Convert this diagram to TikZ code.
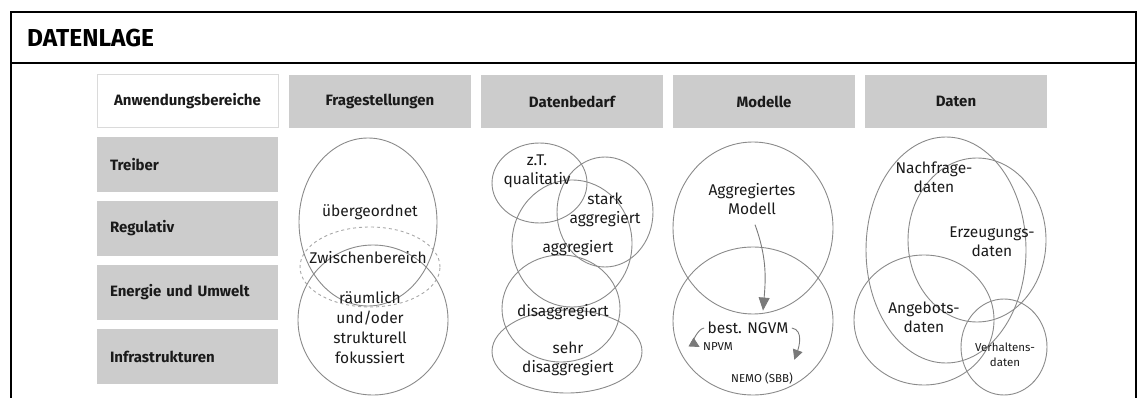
\documentclass[tikz,border=0pt]{standalone}
\usepackage{fontspec}
\setmainfont{Fira Sans}
\usepackage{xcolor}
\usetikzlibrary{arrows.meta, positioning}

\definecolor{boxgray}{HTML}{CCCCCC}
\definecolor{ringgray}{HTML}{8A8A8A}
\definecolor{edgegray}{HTML}{DADADA}
\definecolor{arrowgray}{HTML}{7A7A7A}
\definecolor{textdark}{HTML}{1A1A1A}

\begin{document}
\begin{tikzpicture}[
    x=1pt, y=-1pt,
    node distance=9pt and 10pt,
    colhead/.style={rectangle, fill=boxgray, minimum width=182pt, minimum height=53pt, inner sep=0pt, outer sep=0pt, text=textdark, font=\fontsize{15}{18}\selectfont\bfseries},
    rowhead/.style={rectangle, fill=boxgray, text width=155pt, inner xsep=13pt, inner ysep=0pt, minimum height=55pt, outer sep=0pt, align=left, text=textdark, font=\fontsize{15}{18}\selectfont\bfseries},
    ring/.style={draw=ringgray, line width=0.9pt},
    txt/.style={align=center, text=textdark, font=\fontsize{15.5}{19}\selectfont},
    smalltxt/.style={align=center, text=textdark, font=\fontsize{11.5}{15}\selectfont},
    arrow/.style={-{Triangle[length=13pt, width=11pt]}, draw=arrowgray, line width=0.9pt},
    smallarrow/.style={-{Triangle[length=10pt, width=10pt]}, draw=arrowgray, line width=0.9pt}
]
\useasboundingbox (0,0) rectangle (1137,398);

% Frame
\draw[line width=2.6pt] (11,410) -- (11,12) -- (1136,12) -- (1136,410);
\draw[line width=2.6pt] (11,63) -- (1136,63);
\node[anchor=west, inner sep=0pt, font=\fontsize{24.5}{27}\selectfont\bfseries] (title) at (27,38) {DATENLAGE};

% Header row
\node (anw) [colhead, fill=white, draw=edgegray, line width=1pt, minimum width=181pt] at (187.5,101.5) {Anwendungsbereiche};
\node (frag) [colhead, right=11pt of anw] {Fragestellungen};
\node (bedarf) [colhead, right=of frag] {Datenbedarf};
\node (modelle) [colhead, right=of bedarf] {Modelle};
\node (daten) [colhead, right=of modelle] {Daten};

% Rows
\node (treiber) [rowhead, below=of anw] {Treiber};
\node (regulativ) [rowhead, below=of treiber] {Regulativ};
\node (energie) [rowhead, below=of regulativ] {Energie und Umwelt};
\node (infra) [rowhead, below=of energie] {Infrastrukturen};

% Fragestellungen
\draw[ring] (368,222) ellipse [x radius=69pt, y radius=84pt];
\draw[ring] (373,320) ellipse [x radius=75pt, y radius=75pt];
\draw[ring, draw=ringgray!75, dashed] (370,267) ellipse [x radius=70pt, y radius=40pt];
\node (uebg) [txt] at (370,212) {übergeordnet};
\node (zwischen) [txt] at (368,258) {Zwischenbereich};
\node (raeuml) [txt, font=\fontsize{15.5}{20}\selectfont] at (370,327.5) {räumlich\\und/oder\\strukturell\\fokussiert};

% Datenbedarf
\draw[ring] (539.5,183) ellipse [x radius=47.5pt, y radius=40pt];
\draw[ring] (605,212) ellipse [x radius=48pt, y radius=55pt];
\draw[ring] (572,243.5) ellipse [x radius=60pt, y radius=63.5pt];
\draw[ring] (561,308.5) ellipse [x radius=59pt, y radius=53.5pt];
\draw[ring] (567,351.5) ellipse [x radius=75pt, y radius=41.5pt];
\node (qual) [txt] at (537,171) {z.T.\\qualitativ};
\node (stark) [txt] at (605,209.5) {stark\\aggregiert};
\node (aggr) [txt] at (578,248) {aggregiert};
\node (disaggr) [txt] at (563,312) {disaggregiert};
\node (sehr) [txt] at (568,359) {sehr\\disaggregiert};

% Modelle
\draw[ring] (753,228) ellipse [x radius=80pt, y radius=86pt];
\draw[ring] (753,321) ellipse [x radius=80pt, y radius=74pt];
\node (aggmod) [txt] at (752,199.5) {Aggregiertes\\Modell};
\node (ngvm) [txt] at (748,328) {best. NGVM};
\node (npvm) [smalltxt] at (718,347) {NPVM};
\node (nemo) [smalltxt] at (762,378) {NEMO (SBB)};
\draw[arrow] ([xshift=3pt, yshift=-6pt]aggmod.south) to[out=-70, in=85] ([xshift=15pt, yshift=8pt]ngvm.north);
\draw[smallarrow] (ngvm.west) to[out=190, in=150] (npvm.west);
\draw[smallarrow] (ngvm.east) to[out=-10, in=70] ([xshift=-2pt, yshift=9pt]nemo.north east);

% Daten
\draw[ring] (946,250) ellipse [x radius=80pt, y radius=113pt];
\draw[ring] (977,240) ellipse [x radius=69pt, y radius=82pt];
\draw[ring] (924,320) ellipse [x radius=70pt, y radius=65pt];
\draw[ring] (1004,347) ellipse [x radius=43pt, y radius=48pt];
\node (nachfrage) [txt] at (934,177) {Nachfrage-\\daten};
\node (erzeugung) [txt] at (992,242) {Erzeugungs-\\daten};
\node (angebot) [txt] at (924,317) {Angebots-\\daten};
\node (verhalten) [smalltxt] at (1005,354.5) {Verhaltens-\\daten};

\end{tikzpicture}
\end{document}
